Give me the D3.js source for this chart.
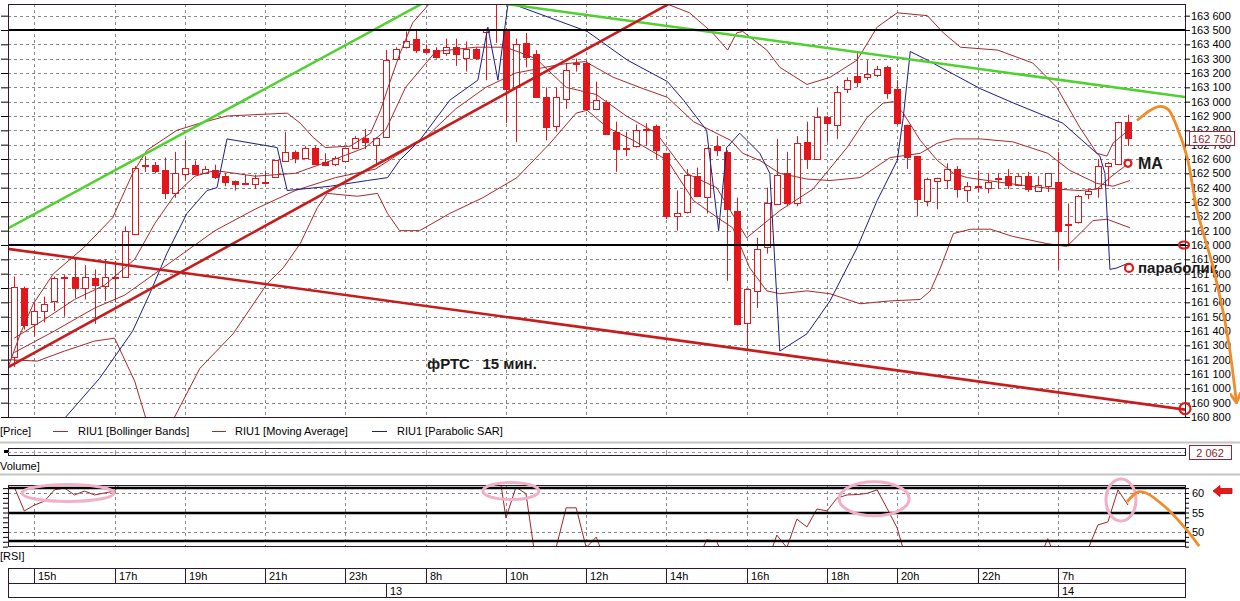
<!DOCTYPE html>
<html><head><meta charset="utf-8">
<script src="https://cdn.jsdelivr.net/npm/d3@7/dist/d3.min.js"></script>
<style>
html,body{margin:0;padding:0;background:#fff;}
svg{display:block;}
text{font-family:"Liberation Sans",Arial,sans-serif;}
</style></head><body>
<svg id="chart" width="1240" height="601"></svg>
<script>
// ================= DATA =================
const candleOpen=[
161220,161700,161450,161540,161610,161770,161780,161700,161770,161720,
161780,161780,162080,162560,162560,162520,162360,162500,162560,162500,
162520,162480,162450,162430,162430,162430,162470,162590,162650,162610,
162680,162580,162570,162590,162680,162750,162700,162750,163300,163380,
163440,163370,163360,163340,163380,163310,163370,163490,163500,163510,
163100,163410,163330,163030,162830,163020,163260,163270,162950,163000,
162790,162670,162690,162800,162830,162640,162200,162230,162480,162340,
162690,162650,162240,161450,161680,161980,162290,162500,162290,162720,
162600,162890,162840,163090,163180,163170,163190,163240,163090,162840,
162620,162310,162450,162450,162530,162380,162410,162400,162460,162480,
162420,162480,162380,162410,162440,162140,162160,162360,162400,162550,
162570,162860];
const candleHigh=[
161780,161710,161600,161640,161780,161790,161910,161860,161830,161900,
161890,162130,162550,162620,162580,162610,162650,162730,162590,162550,
162560,162500,162450,162490,162490,162520,162590,162790,162660,162690,
162690,162640,162620,162680,162760,162810,162750,163360,163380,163490,
163500,163400,163380,163440,163440,163420,163380,163510,163680,163510,
163440,163480,163360,163100,163100,163270,163300,163290,163140,163010,
162860,162790,162840,162850,162840,162640,162380,162530,162540,162680,
162760,162660,162330,161690,162050,162400,162740,162650,162760,162860,
162960,162900,163110,163170,163340,163290,163250,163250,163150,162840,
162620,162470,162470,162570,162550,162440,162520,162500,162500,162530,
162500,162510,162480,162500,162650,162290,162350,162390,162600,162580,
162860,162910];
const candleLow=[
161150,161410,161360,161460,161540,161500,161630,161620,161450,161610,
161600,161770,162080,162510,162500,162320,162330,162450,162500,162500,
162460,162410,162380,162420,162390,162430,162470,162580,162570,162600,
162570,162550,162550,162580,162680,162670,162550,162750,163290,163370,
163340,163340,163300,163320,163250,163210,163290,163150,163410,162850,
162720,163240,163030,162730,162790,162950,163210,162940,162940,162780,
162510,162620,162680,162690,162600,162180,162100,162220,162340,162220,
162620,161750,161440,161260,161560,161940,162290,162270,162270,162530,
162600,162720,162740,163060,163100,163150,163170,163020,162840,162530,
162200,162270,162250,162390,162330,162300,162370,162360,162390,162390,
162410,162370,162370,162370,161830,161990,162150,162320,162330,162410,
162570,162690];
const candleClose=[
161710,161440,161540,161590,161770,161780,161700,161780,161720,161780,
161770,162100,162540,162550,162520,162360,162500,162540,162500,162530,
162470,162440,162430,162425,162470,162440,162590,162650,162610,162680,
162570,162560,162610,162680,162750,162720,162750,163290,163370,163420,
163360,163350,163310,163380,163330,163370,163310,163510,163510,163090,
163400,163310,163030,162820,163030,163220,163270,162950,163010,162780,
162670,162680,162800,162810,162660,162200,162220,162490,162340,162680,
162660,162250,161450,161690,161970,162290,162490,162290,162710,162600,
162890,162850,163070,163150,163140,163190,163230,163060,162850,162620,
162320,162460,162470,162530,162390,162410,162400,162440,162470,162420,
162480,162390,162420,162500,162100,162150,162340,162380,162550,162570,
162860,162750];

// Indicator lines (candle index, price)
const bbUpperIdx=[-0.6,0.6,1.9,3.9,6.9,9.8,11.8,13.2,16.2,18.5,21.2,27.2,28.5,29.8,31,33.5,35.5,36.5,37.4,38.4,39.7,41.7,44,55,63,65.1,67.3,69.6,71.1,72,72.6,75,76.3,79,81.3,84,86,88,91,92.6,94.3,98,101.5,103.9,106.2,107.9,108.9,109.5,111.2];
const bbUpperVal=[161150,161380,161590,161800,161980,162190,162500,162660,162800,162850,162900,162920,162850,162750,162680,162690,162780,162940,163130,163330,163550,163710,163900,164000,163800,163680,163620,163480,163360,163480,163490,163360,163240,163120,163170,163290,163520,163620,163600,163480,163380,163360,163270,163100,162820,162640,162620,162710,162810];
const bbMidIdx=[0,4,8,11,14,17,20,24,28,32,36,38,41,44,47,50,54.4,56.9,59.7,62.7,65.1,67.7,69.4,71.4,72.6,74.3,76.3,79,81.3,84.3,87.3,90.3,92,93.6,96.3,99.5,103,105.2,107.9,109.5,111.2];
const bbMidVal=[161250,161400,161560,161650,161800,161950,162100,162250,162380,162470,162530,162620,162750,162950,163100,163200,163260,163280,163170,163090,163030,162860,162800,162730,162640,162590,162500,162460,162450,162470,162610,162640,162710,162740,162740,162720,162640,162520,162430,162410,162450];
const bbLowerIdx=[-0.6,2.3,5,8,10,12,13.5,15.9,18.5,21.8,25.2,26.8,28.5,30.2,31.2,34.2,36.2,37.2,38.4,40.4,43.4,46.7,50.1,53.4,56,57.1,59.1,61.7,65.1,67.7,70.1,71.6,73.3,75,76.3,79,81.3,84.3,87.3,90.3,91.3,92.3,93.6,95.3,97.3,99.5,102.9,104.9,105.5,107.5,108.9,111.2];
const bbLowerVal=[161200,161190,161260,161330,161350,161050,160700,160790,161140,161380,161730,161840,162010,162260,162360,162340,162360,162220,162100,162100,162220,162330,162470,162710,162920,162940,162820,162730,162590,162310,162190,162120,161840,161680,161660,161680,161660,161590,161610,161620,161680,161840,162080,162110,162110,162060,162010,161990,162030,162170,162180,162120];
const maIdx=[0,3,6,9,12,14,16,18,20,24,28,32,35,37,39,42,46,49,52,55,58,61,64,67,70,73,76.3,79.6,83,85,86.6,87.6,88.6,90.3,92,93.6,95,98,101.2,103.9,106.2,107.9,109.2,110.5,111];
const maVal=[161350,161480,161620,161720,161900,162150,162350,162480,162520,162480,162500,162600,162680,162800,163100,163350,163380,163380,163300,163100,163050,162900,162780,162500,162400,162050,162240,162390,162680,162890,162990,163000,162920,162730,162590,162500,162470,162440,162410,162390,162380,162390,162470,162540,162570];
const sarIdx=[4,5,8.5,11.8,13.5,15.2,17.2,19.2,20.2,21.2,26.2,27.2,31.5,35.2,37.2,38.4,40.4,43.4,46.2,47.2,48.2,49.2,49.7,57.1,61.1,65.1,66.7,69,70.2,71,72.3,74.3,75.3,76.3,79,81.3,84,86,88,88.6,89.3,91,96.3,99.6,104.5,108.2,108.7,109.2,109.9,110.9];
const sarVal=[160650,160790,161070,161400,161660,161940,162220,162380,162400,162740,162680,162380,162410,162450,162470,162590,162730,163010,163150,163520,163150,163680,163680,163490,163290,163140,163010,162800,162100,162680,162780,162640,162500,161260,161380,161610,161980,162310,162590,162890,163350,163290,163090,162990,162850,162620,162500,161830,161840,161870];

// RSI per candle
const rsiVal=[
61.5,55.4,56.9,57.9,60.8,61.3,59.5,60.5,59.5,60.0,
60.5,64,66,67,66,65,66,67,66,65,
66,65,64,64,65,65,66,67,66,67,
66,65,66,67,68,67,68,72,73,74,
72,71,70,71,70,71,70,72,71,53.6,
61.5,59.8,42,42,46,56.2,56.2,46,48.7,42,
42,41,42,42,41,40,41,42,42,48.0,
47.6,42,40,39,41,42,49.2,46,53.3,51.3,
55.9,55.4,58.7,59.5,59.6,59.9,60.8,56,51,42,
41,42,42,42,42,42,42,42,42,42,
42,42,42,48.3,42,41,42,45.5,51.8,52.6,
60.8,56.9];
const rsiLevels=[61.3,55,47.7];
const rsiLabels=[60,55,50];

// tick labels
const priceTicks=d3.range(160800,163601,100);
const hourIdx=[2,10,17,25,33,41,49,57,65,73,81,88,96,104];
const hourLabels=["15h","17h","19h","21h","23h","8h","10h","12h","14h","16h","18h","20h","22h","7h"];
const dayIdx=[37,104];
const dayLabels=["13","14"];

// drawn trend lines (candle index, price)
const greenUpIdx=[-0.63,40.4], greenUpVal=[162116,163675];
const greenDownIdx=[49.7,116.5], greenDownVal=[163675,163034];
const redUpIdx=[-0.63,65.05], redUpVal=[161147,163675];
const redDownIdx=[-0.63,116.7], redDownVal=[161973,160851];
const levelPrices=[163500,162000];
// forecast annotation
const forecastIdx=[111.9,113.2,114.2,115,115.9,116.9,117.9,119.5,120.9,121.8];
const forecastVal=[162869,162939,162967,162946,162820,162610,162238,161839,161376,160907];
const rsiForecastIdx=[110.9,112,112.8,114.8,116.7,118.1];
const rsiForecastVal=[57.7,60.3,60,56.2,51,46.4];
const lastPrice=162750, lastVolume="2 062";

// ================= DRAW =================
const svg=d3.select("#chart");
const FRAME="#2e1a2e", CANDLE="#e3161c", IND="#a8292b", SAR="#1c1c86";
const plot={l:8,r:1185,t:4,b:417};
const rsiBox={t:485,b:546};
const x=d3.scaleLinear().domain([0,111]).range([14.3,1128]);
const y=d3.scaleLinear().domain([160800,163500]).range([417,30]);
const ry=d3.scaleLinear().domain([50,60]).range([532,493]);
const px=i=>Math.round(x(i));

const defs=svg.append("defs");
defs.append("clipPath").attr("id","clipMain").append("rect")
  .attr("x",plot.l).attr("y",plot.t).attr("width",plot.r-plot.l).attr("height",plot.b-plot.t);
defs.append("clipPath").attr("id","clipRsi").append("rect")
  .attr("x",plot.l).attr("y",rsiBox.t).attr("width",plot.r-plot.l).attr("height",rsiBox.b-rsiBox.t);
defs.append("marker").attr("id","arr").attr("viewBox","0 0 10 10").attr("refX",8).attr("refY",5)
  .attr("markerWidth",4).attr("markerHeight",4).attr("orient","auto")
  .append("path").attr("d","M0,0 L9,5 L0,10").attr("fill","none").attr("stroke","#f28b2a").attr("stroke-width",2.5);

// ---- main grid ----
const g=svg.append("g");
g.selectAll("line.hg").data(priceTicks).join("line")
  .attr("x1",plot.l).attr("x2",plot.r)
  .attr("y1",d=>Math.round(y(d))+0.5).attr("y2",d=>Math.round(y(d))+0.5)
  .attr("stroke","#888").attr("stroke-dasharray","3,3");
g.selectAll("line.vg").data(hourIdx).join("line")
  .attr("x1",d=>px(d)+0.5).attr("x2",d=>px(d)+0.5).attr("y1",plot.t).attr("y2",plot.b)
  .attr("stroke","#888").attr("stroke-dasharray","3,3");

// ---- candles ----
const main=svg.append("g").attr("clip-path","url(#clipMain)");
const idx=d3.range(candleOpen.length);
main.selectAll("line.wick").data(idx).join("line")
  .attr("x1",i=>px(i)+0.5).attr("x2",i=>px(i)+0.5)
  .attr("y1",i=>y(candleHigh[i])).attr("y2",i=>y(candleLow[i]))
  .attr("stroke",CANDLE).attr("stroke-width",1);
main.selectAll("rect.body").data(idx).join("rect")
  .attr("x",i=>px(i)-2.5).attr("width",6)
  .attr("y",i=>Math.round(y(Math.max(candleOpen[i],candleClose[i])))+0.5)
  .attr("height",i=>Math.max(1,Math.round(Math.abs(y(candleOpen[i])-y(candleClose[i])))))
  .attr("fill",i=>candleClose[i]<candleOpen[i]?CANDLE:"#fff")
  .attr("stroke",CANDLE).attr("stroke-width",1);

// ---- indicator lines ----
const ln=d3.line().x(d=>x(d[0])).y(d=>y(d[1]));
const zip=(a,b)=>a.map((v,i)=>[v,b[i]]);
[[bbUpperIdx,bbUpperVal],[bbMidIdx,bbMidVal],[bbLowerIdx,bbLowerVal],[maIdx,maVal]].forEach(([a,b])=>{
  main.append("path").attr("d",ln(zip(a,b))).attr("fill","none").attr("stroke",IND).attr("stroke-width",1);
});
main.append("path").attr("d",ln(zip(sarIdx,sarVal))).attr("fill","none").attr("stroke",SAR).attr("stroke-width",1);

// ---- trend lines (extended, clipped) ----
function ext(a,b){const s=(b[1]-b[0])/(a[1]-a[0]);const k0=-3,k1=120;return [[k0,b[0]+s*(k0-a[0])],[k1,b[0]+s*(k1-a[0])]];}
main.append("path").attr("d",ln(ext(greenUpIdx,greenUpVal))).attr("stroke","#4fd12f").attr("stroke-width",2.5).attr("fill","none");
main.append("path").attr("d",ln(ext(greenDownIdx,greenDownVal))).attr("stroke","#4fd12f").attr("stroke-width",2.5).attr("fill","none");
main.append("path").attr("d",ln(ext(redUpIdx,redUpVal))).attr("stroke","#c81c1c").attr("stroke-width",2.6).attr("fill","none");
main.append("path").attr("d",ln(ext(redDownIdx,redDownVal))).attr("stroke","#c81c1c").attr("stroke-width",2.6).attr("fill","none");
main.selectAll("line.lvl").data(levelPrices).join("line")
  .attr("x1",plot.l).attr("x2",plot.r).attr("y1",d=>Math.round(y(d))).attr("y2",d=>Math.round(y(d)))
  .attr("stroke","#000").attr("stroke-width",2);

// ---- frame and axes ----
svg.append("rect").attr("x",plot.l+0.5).attr("y",plot.t+0.5).attr("width",plot.r-plot.l).attr("height",plot.b-plot.t)
  .attr("fill","none").attr("stroke",FRAME);
const fmtPrice=d=>{const s=String(d);return s.slice(0,3)+" "+s.slice(3);};
const gR=svg.append("g").attr("transform",`translate(${plot.r},0)`)
  .call(d3.axisRight(y).tickValues(priceTicks).tickSize(5).tickPadding(1).tickFormat(fmtPrice));
gR.select(".domain").remove();
gR.selectAll("line").attr("stroke","#000");
gR.selectAll("text").attr("font-family","Liberation Sans, Arial").attr("font-size",11).attr("fill","#000");
const gL=svg.append("g").attr("transform",`translate(${plot.l},0)`)
  .call(d3.axisLeft(y).tickValues(priceTicks).tickSize(7).tickFormat(""));
gL.select(".domain").remove();
gL.selectAll("line").attr("stroke","#000");

// last price box
const lpY=Math.round(y(lastPrice));
svg.append("rect").attr("x",1189.5).attr("y",lpY-6.5).attr("width",45).attr("height",14).attr("fill","#fff").attr("stroke","#9b2335");
svg.append("text").attr("x",1212).attr("y",lpY+4.5).attr("text-anchor","middle").attr("font-size",11).attr("fill","#8b1c2c").text(fmtPrice(lastPrice));

// ---- annotations ----
svg.append("text").attr("x",427).attr("y",369).attr("font-family","Open Sans, Noto Sans, sans-serif")
  .attr("font-weight","bold").attr("font-size",15).attr("fill","#1a1a1a").style("white-space","pre").text("фРТС   15 мин.");
const maEnd=[maIdx[maIdx.length-1],maVal[maVal.length-1]];
svg.append("circle").attr("cx",x(maEnd[0])).attr("cy",y(maEnd[1])).attr("r",3.5).attr("fill","#fff").attr("stroke","#e01818").attr("stroke-width",2.2);
svg.append("text").attr("x",x(maEnd[0])+10).attr("y",y(maEnd[1])+6).attr("font-family","Open Sans, Noto Sans, sans-serif")
  .attr("font-weight","bold").attr("font-size",16).attr("fill","#1a1a1a").text("MA");
const sarEnd=[sarIdx[sarIdx.length-1]+0.2,sarVal[sarVal.length-1]-30];
svg.append("circle").attr("cx",x(sarEnd[0])).attr("cy",y(sarEnd[1])).attr("r",4).attr("fill","#fff").attr("stroke","#e01818").attr("stroke-width",2.2);
svg.append("text").attr("x",x(sarEnd[0])+9).attr("y",y(sarEnd[1])+5).attr("font-family","Open Sans, Noto Sans, sans-serif")
  .attr("font-weight","bold").attr("font-size",15).attr("fill","#1a1a1a").text("параболик");
svg.append("ellipse").attr("cx",1184).attr("cy",y(levelPrices[1])).attr("rx",5).attr("ry",3.5).attr("fill","none").attr("stroke","#e01818").attr("stroke-width",2.2);
svg.append("circle").attr("cx",1185).attr("cy",y(redDownVal[1])-1).attr("r",5.5).attr("fill","none").attr("stroke","#e01818").attr("stroke-width",2.2);
svg.append("path").attr("d",d3.line().curve(d3.curveCatmullRom).x(d=>x(d[0])).y(d=>y(d[1]))(zip(forecastIdx,forecastVal)))
  .attr("fill","none").attr("stroke","#f28b2a").attr("stroke-width",2.8).attr("marker-end","url(#arr)");

// ---- legend ----
const lg=svg.append("g").attr("font-size",11).attr("fill","#000");
lg.append("text").attr("x",0).attr("y",435).text("[Price]");
lg.append("line").attr("x1",53).attr("x2",68).attr("y1",431.5).attr("y2",431.5).attr("stroke",IND);
lg.append("text").attr("x",78).attr("y",435).text("RIU1 [Bollinger Bands]");
lg.append("line").attr("x1",212).attr("x2",226).attr("y1",431.5).attr("y2",431.5).attr("stroke",IND);
lg.append("text").attr("x",235).attr("y",435).text("RIU1 [Moving Average]");
lg.append("line").attr("x1",372).attr("x2",387).attr("y1",431.5).attr("y2",431.5).attr("stroke",SAR);
lg.append("text").attr("x",397).attr("y",435).text("RIU1 [Parabolic SAR]");
svg.append("line").attr("x1",0).attr("x2",1240).attr("y1",442.5).attr("y2",442.5).attr("stroke","#c4c4c4").attr("stroke-width",2);

// ---- volume strip ----
svg.append("rect").attr("x",plot.l+0.5).attr("y",448.5).attr("width",plot.r-plot.l).attr("height",7).attr("fill","#fff").attr("stroke",FRAME);
svg.append("line").attr("x1",plot.l).attr("x2",plot.r).attr("y1",452.5).attr("y2",452.5).attr("stroke","#999").attr("stroke-dasharray","3,3");
svg.selectAll("line.vt").data(hourIdx).join("line").attr("x1",d=>px(d)+0.5).attr("x2",d=>px(d)+0.5).attr("y1",450).attr("y2",455).attr("stroke","#999");
svg.append("rect").attr("x",4).attr("y",450).attr("width",4).attr("height",3).attr("fill","#000");
svg.append("rect").attr("x",1189.5).attr("y",445.5).attr("width",42).attr("height",14).attr("fill","#fff").attr("stroke","#9b2335");
svg.append("text").attr("x",1210).attr("y",456.5).attr("text-anchor","middle").attr("font-size",11).attr("fill","#8b1c2c").text(lastVolume);
svg.append("text").attr("x",0).attr("y",470).attr("font-size",11).text("Volume]");
svg.append("line").attr("x1",0).attr("x2",1240).attr("y1",474.5).attr("y2",474.5).attr("stroke","#c4c4c4").attr("stroke-width",2);

// ---- RSI panel ----
const rg=svg.append("g");
rg.selectAll("line.rh").data([60,50]).join("line").attr("x1",plot.l).attr("x2",plot.r)
  .attr("y1",d=>Math.round(ry(d))+0.5).attr("y2",d=>Math.round(ry(d))+0.5).attr("stroke","#888").attr("stroke-dasharray","3,3");
rg.selectAll("line.rv").data(hourIdx).join("line").attr("x1",d=>px(d)+0.5).attr("x2",d=>px(d)+0.5)
  .attr("y1",rsiBox.t).attr("y2",rsiBox.b).attr("stroke","#888").attr("stroke-dasharray","3,3");
const rc=svg.append("g").attr("clip-path","url(#clipRsi)");
rc.append("path").attr("d",d3.line().x((d,i)=>x(i)).y(d=>ry(d))(rsiVal)).attr("fill","none").attr("stroke","#a0262a").attr("stroke-width",1);
rc.selectAll("line.rl").data(rsiLevels).join("line").attr("x1",plot.l).attr("x2",plot.r)
  .attr("y1",d=>Math.round(ry(d))).attr("y2",d=>Math.round(ry(d))).attr("stroke","#000").attr("stroke-width",2.5);
svg.append("rect").attr("x",plot.l+0.5).attr("y",rsiBox.t+0.5).attr("width",plot.r-plot.l).attr("height",rsiBox.b-rsiBox.t)
  .attr("fill","none").attr("stroke",FRAME);
const rTicks=d3.range(46.25,62,1.25);
const gRR=svg.append("g").attr("transform",`translate(${plot.r},0)`).call(d3.axisRight(ry).tickValues(rTicks).tickSize(4).tickFormat(""));
gRR.select(".domain").remove(); gRR.selectAll("line").attr("stroke","#000");
const gRL=svg.append("g").attr("transform",`translate(${plot.l},0)`).call(d3.axisLeft(ry).tickValues(rTicks).tickSize(5).tickFormat(""));
gRL.select(".domain").remove(); gRL.selectAll("line").attr("stroke","#000");
svg.selectAll("text.rl").data(rsiLabels).join("text").attr("x",1192).attr("y",d=>ry(d)+4).attr("font-size",11).text(d=>d);
svg.append("path").attr("d","M1213,491 L1220,485.5 L1220,488.5 L1232,488.5 L1232,493.5 L1220,493.5 L1220,496.5 Z").attr("fill","#e21b1b").attr("stroke","#c00").attr("stroke-width",0.8);
// pink highlights
const pinks=[[5.35,60.0,46,8.5],[49.5,60.5,28,8.5],[85.7,58.5,35,17],[110.3,58.2,15,21]];
svg.selectAll("ellipse.pk").data(pinks).join("ellipse").attr("cx",d=>x(d[0])).attr("cy",d=>ry(d[1])).attr("rx",d=>d[2]).attr("ry",d=>d[3])
  .attr("fill","none").attr("stroke","#f2afc6").attr("stroke-width",3);
svg.append("path").attr("d",d3.line().curve(d3.curveCatmullRom).x(d=>x(d[0])).y(d=>ry(d[1]))(zip(rsiForecastIdx,rsiForecastVal)))
  .attr("fill","none").attr("stroke","#f28b2a").attr("stroke-width",2.8);
svg.append("text").attr("x",0).attr("y",560).attr("font-size",11).text("[RSI]");

// ---- time axis ----
const ta=svg.append("g");
ta.append("rect").attr("x",plot.l+0.5).attr("y",568.5).attr("width",plot.r-plot.l).attr("height",29).attr("fill","none").attr("stroke",FRAME);
ta.append("line").attr("x1",plot.l).attr("x2",plot.r).attr("y1",583.5).attr("y2",583.5).attr("stroke",FRAME);
ta.selectAll("line.ht").data(hourIdx).join("line").attr("x1",d=>px(d)+0.5).attr("x2",d=>px(d)+0.5).attr("y1",568).attr("y2",583).attr("stroke",FRAME);
ta.selectAll("text.ht").data(hourIdx).join("text").attr("x",d=>px(d)+4).attr("y",580).attr("font-size",11).text((d,i)=>hourLabels[i]);
ta.selectAll("line.dt").data(dayIdx).join("line").attr("x1",d=>px(d)+0.5).attr("x2",d=>px(d)+0.5).attr("y1",583).attr("y2",598).attr("stroke",FRAME);
ta.selectAll("text.dt").data(dayIdx).join("text").attr("x",d=>px(d)+4).attr("y",595).attr("font-size",11).text((d,i)=>dayLabels[i]);
</script>
</body></html>
